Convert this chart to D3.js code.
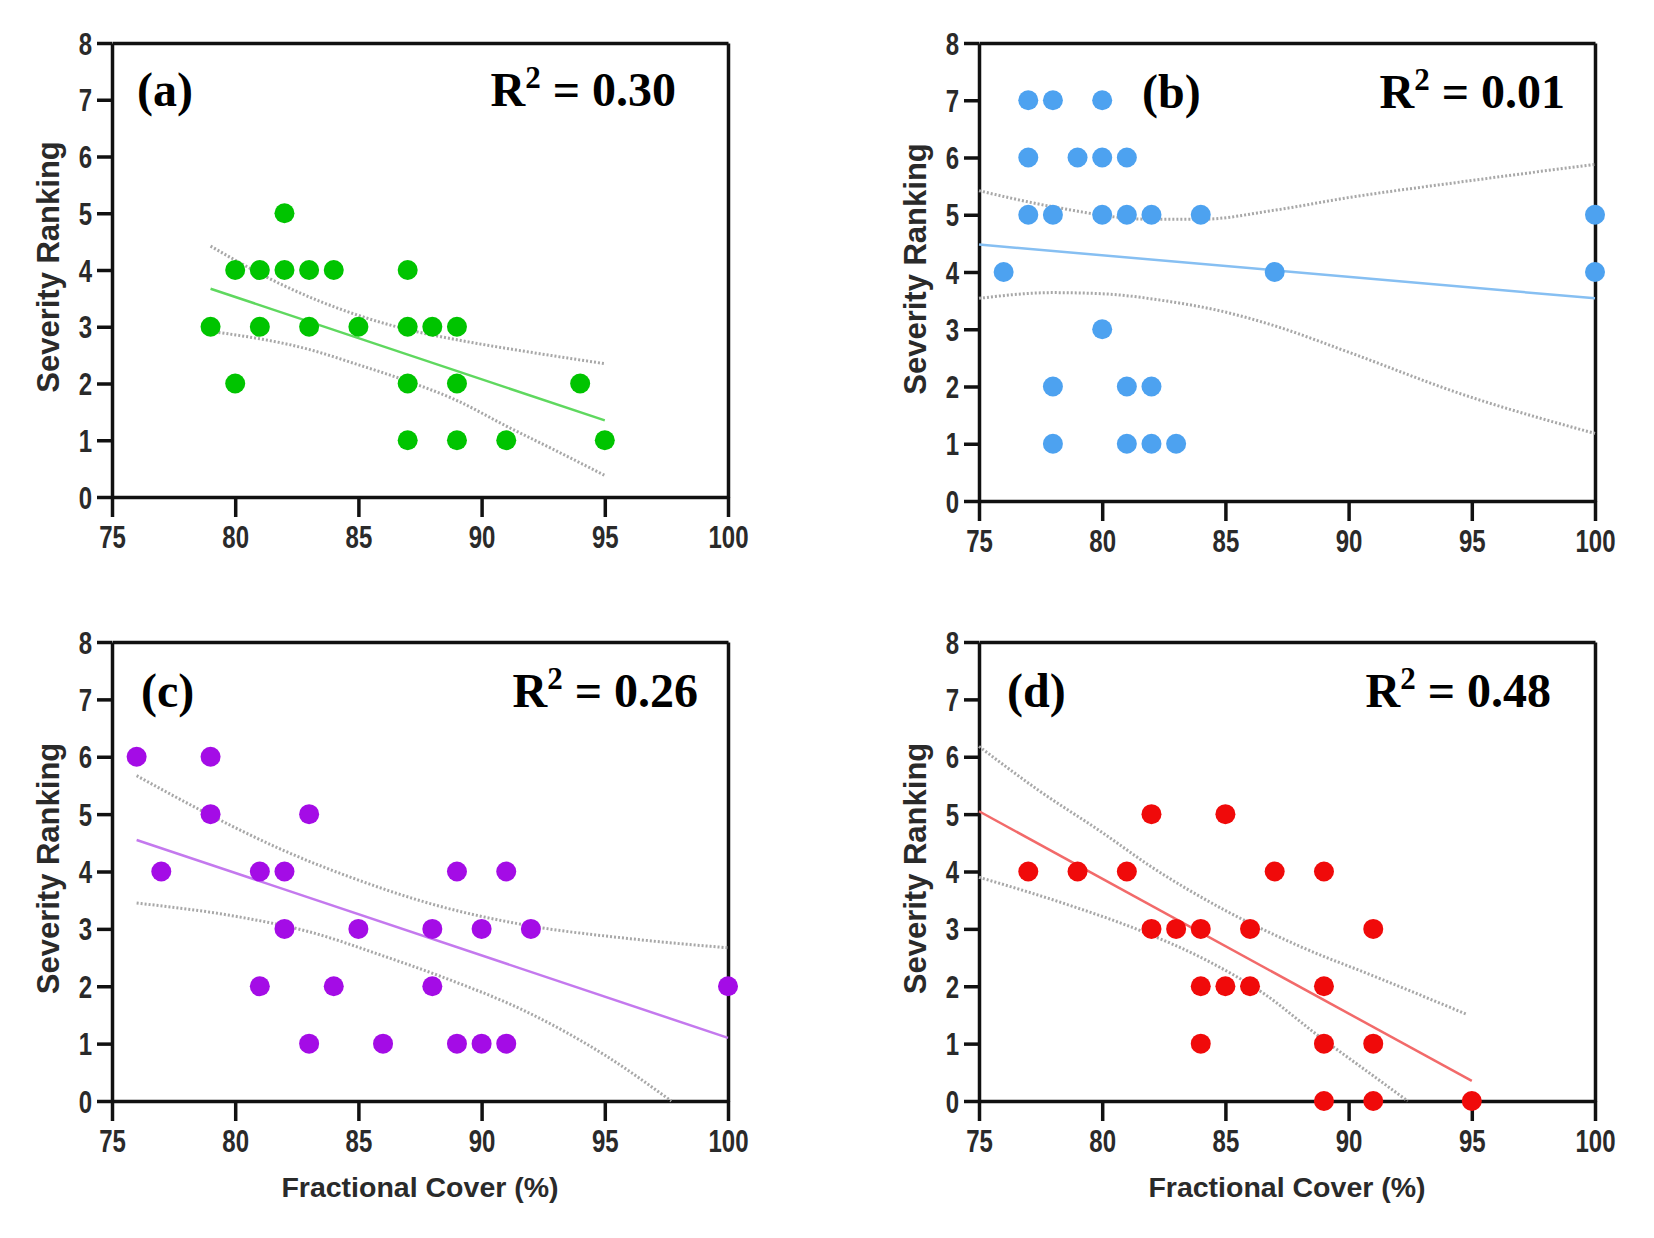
<!DOCTYPE html>
<html>
<head>
<meta charset="utf-8">
<script src="https://cdn.jsdelivr.net/npm/d3@7"></script>
<style>
  body { margin: 0; background: #fff; }
  .tick text { font-family: "Liberation Sans", Arial, sans-serif; font-weight: bold; font-size: 30px; fill: #2a2a2a; }
  .lab { font-family: "Liberation Sans", Arial, sans-serif; font-weight: bold; fill: #2a2a2a; }
  .ttl { font-family: "Liberation Serif", "Times New Roman", serif; font-weight: bold; font-size: 48px; fill: #000; }
</style>
</head>
<body>
<svg id="chart" width="1654" height="1238"></svg>
<script>
// tick labels
var xTicks = [75, 80, 85, 90, 95, 100];
var yTicks = [0, 1, 2, 3, 4, 5, 6, 7, 8];

// (a)
var aX = [79, 80, 80, 81, 81, 82, 82, 83, 83, 84, 85, 87, 87, 87, 87, 88, 89, 89, 89, 91, 94, 95];
var aY = [3, 4, 2, 4, 3, 5, 4, 4, 3, 4, 3, 4, 3, 2, 1, 3, 3, 2, 1, 1, 2, 1];
var aFit = [[79, 3.67], [95, 1.35]];
var aUp = [[79, 4.42], [82, 3.72], [85, 3.2], [87, 2.95], [89, 2.77], [92, 2.55], [95, 2.35]];
var aLo = [[79, 2.92], [83, 2.6], [85, 2.33], [87, 2.04], [89, 1.7], [91, 1.25], [93, 0.82], [95, 0.38]];

// (b)
var bX = [76, 77, 77, 77, 78, 78, 78, 78, 79, 80, 80, 80, 80, 81, 81, 81, 81, 82, 82, 82, 83, 84, 87, 100, 100];
var bY = [4, 7, 6, 5, 7, 5, 2, 1, 6, 7, 6, 5, 3, 6, 5, 2, 1, 5, 2, 1, 1, 5, 4, 5, 4];
var bFit = [[75, 4.48], [100, 3.54]];
var bUp = [[75, 5.42], [78, 5.14], [82, 4.92], [84, 4.92], [87, 5.08], [90, 5.3], [94.5, 5.57], [100, 5.88]];
var bLo = [[75, 3.54], [78, 3.64], [80, 3.62], [82.5, 3.5], [85, 3.3], [87, 3.06], [90, 2.6], [94.5, 1.88], [100, 1.18]];

// (c)
var cX = [76, 77, 79, 79, 81, 81, 82, 82, 83, 83, 84, 85, 86, 88, 88, 89, 89, 90, 90, 91, 91, 92, 100];
var cY = [6, 4, 6, 5, 4, 2, 4, 3, 5, 1, 2, 3, 1, 3, 2, 4, 1, 3, 1, 4, 1, 3, 2];
var cFit = [[76, 4.55], [100, 1.1]];
var cUp = [[76, 5.67], [79, 4.98], [82, 4.36], [85, 3.85], [88, 3.43], [92, 3.05], [96, 2.83], [100, 2.67]];
var cLo = [[76, 3.45], [80, 3.22], [83, 2.95], [86, 2.53], [88.6, 2.13], [91.8, 1.56], [95, 0.8], [97.7, 0]];

// (d)
var dX = [77, 79, 81, 82, 82, 83, 84, 84, 84, 85, 85, 86, 86, 87, 89, 89, 89, 89, 91, 91, 91, 95];
var dY = [4, 4, 4, 5, 3, 3, 3, 2, 1, 5, 2, 3, 2, 4, 4, 2, 1, 0, 3, 1, 0, 0];
var dFit = [[75, 5.05], [95, 0.35]];
var dUp = [[75, 6.18], [77.4, 5.42], [80, 4.68], [82, 4.08], [85, 3.32], [88, 2.7], [91.3, 2.13], [94.8, 1.51]];
var dLo = [[75, 3.9], [78.4, 3.45], [81.6, 2.96], [84.2, 2.46], [86.6, 1.86], [88.7, 1.16], [90.9, 0.47], [92.4, 0]];

var panels = [
  {id: "(a)", r2: "0.30", xs: aX, ys: aY, fit: aFit, up: aUp, lo: aLo, dot: "#00c400", line: "#5fd85f",
   box: [112, 728, 43, 497], idx: 137, r2x: 676, ty: 106, xlab: false},
  {id: "(b)", r2: "0.01", xs: bX, ys: bY, fit: bFit, up: bUp, lo: bLo, dot: "#4da2f0", line: "#86bff2",
   box: [979, 1595, 43, 501], idx: 1142, r2x: 1565, ty: 108, xlab: false},
  {id: "(c)", r2: "0.26", xs: cX, ys: cY, fit: cFit, up: cUp, lo: cLo, dot: "#a40ce6", line: "#c479ee",
   box: [112, 728, 642, 1101], idx: 141, r2x: 698, ty: 707, xlab: true},
  {id: "(d)", r2: "0.48", xs: dX, ys: dY, fit: dFit, up: dUp, lo: dLo, dot: "#f00a0a", line: "#f26a6a",
   box: [979, 1595, 642, 1101], idx: 1007, r2x: 1551, ty: 707, xlab: true}
];

var svg = d3.select("#chart");
svg.append("rect").attr("width", 1654).attr("height", 1238).attr("fill", "#fff");

function darkAxis(a) {
  a.select(".domain").attr("stroke", "#111").attr("stroke-width", 3.5);
  a.selectAll(".tick line").attr("stroke", "#111").attr("stroke-width", 3.5);
}

panels.forEach(function(p) {
  var x = d3.scaleLinear().domain([75, 100]).range([p.box[0], p.box[1]]);
  var y = d3.scaleLinear().domain([0, 8]).range([p.box[3], p.box[2]]);
  var g = svg.append("g");

  // frame: top + right
  g.append("g").attr("transform", "translate(0," + p.box[2] + ")")
    .call(d3.axisTop(x).tickValues([]).tickSizeOuter(0)).call(darkAxis);
  g.append("g").attr("transform", "translate(" + p.box[1] + ",0)")
    .call(d3.axisRight(y).tickValues([]).tickSizeOuter(0)).call(darkAxis);

  var xAxis = d3.axisBottom(x).tickValues(xTicks).tickSize(20).tickPadding(8).tickSizeOuter(0);
  var yAxis = d3.axisLeft(y).tickValues(yTicks).tickSize(15).tickPadding(5).tickSizeOuter(0);

  // narrow tick digits like the original
  g.append("g").attr("class", "x axis").attr("transform", "translate(0," + p.box[3] + ")").call(xAxis)
    .call(darkAxis)
    .call(function(a) {
      a.selectAll(".tick text").attr("y", 0).attr("dy", "0.76em")
        .attr("transform", "translate(0,28) scale(0.8,1.02)");
    });
  g.append("g").attr("class", "y axis").attr("transform", "translate(" + p.box[0] + ",0)").call(yAxis)
    .call(darkAxis)
    .call(function(a) {
      a.selectAll(".tick text").attr("x", 0).attr("dy", "0.36em")
        .attr("transform", "translate(-20,0) scale(0.8,1.02)");
    });

  // confidence bands
  var band = d3.line().x(function(d) { return x(d[0]); }).y(function(d) { return y(d[1]); }).curve(d3.curveMonotoneX);
  [p.up, p.lo].forEach(function(b) {
    g.append("path").attr("d", band(b)).attr("fill", "none")
      .attr("stroke", "#a8a8a8").attr("stroke-width", 3).attr("stroke-dasharray", "2,2");
  });

  // fit line
  g.append("path").attr("d", band(p.fit)).attr("fill", "none")
    .attr("stroke", p.line).attr("stroke-width", 2.5);

  // points
  g.selectAll("circle.pt").data(p.xs).enter().append("circle")
    .attr("class", "pt")
    .attr("cx", function(d) { return x(d); })
    .attr("cy", function(d, i) { return y(p.ys[i]); })
    .attr("r", 10)
    .attr("fill", p.dot);

  // labels
  var cy = (p.box[2] + p.box[3]) / 2;
  g.append("text").attr("class", "lab").attr("font-size", "31px")
    .attr("transform", "translate(" + (p.box[0] - 53) + "," + (cy - 3) + ") rotate(-90)")
    .attr("text-anchor", "middle").text("Severity Ranking");
  if (p.xlab) {
    g.append("text").attr("class", "lab").attr("font-size", "28.5px")
      .attr("x", (p.box[0] + p.box[1]) / 2).attr("y", p.box[3] + 96)
      .attr("text-anchor", "middle").text("Fractional Cover (%)");
  }
  g.append("text").attr("class", "ttl").attr("x", p.idx).attr("y", p.ty).text(p.id);
  var r2 = g.append("text").attr("class", "ttl").attr("x", p.r2x).attr("y", p.ty).attr("text-anchor", "end");
  r2.append("tspan").text("R");
  r2.append("tspan").attr("font-size", "31px").attr("dy", "-18").text("2");
  r2.append("tspan").attr("dy", "18").text(" = " + p.r2);
});
</script>
</body>
</html>
